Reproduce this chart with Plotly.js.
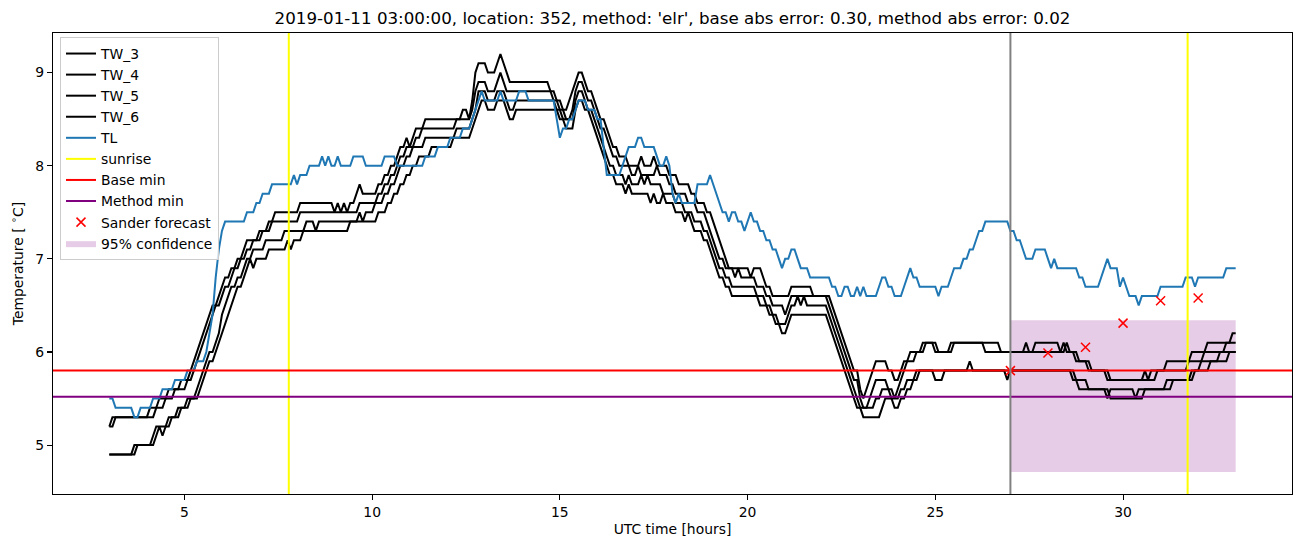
<!DOCTYPE html>
<html>
<head>
<meta charset="utf-8">
<script src="https://cdn.plot.ly/plotly-3.0.1.min.js"></script>
<style>html,body{margin:0;padding:0;background:#fff;}#chart{width:1302px;height:547px;}</style>
</head>
<body>
<div id="chart"></div>
<script>
// ---- data (5-minute samples from 03:00 to 33:00 UTC) ----
const startHour = 3;
const stepMinutes = 5;

const TL = [
5.5,5.5,5.4,5.4,5.4,5.4,5.4,5.4,5.3,5.3,5.4,5.4,
5.4,5.4,5.5,5.5,5.5,5.6,5.6,5.6,5.6,5.7,5.7,5.7,
5.7,5.8,5.8,5.8,5.9,5.9,5.9,6.0,6.2,6.4,6.8,7.1,
7.3,7.4,7.4,7.4,7.4,7.4,7.4,7.4,7.5,7.5,7.5,7.6,
7.6,7.7,7.7,7.7,7.8,7.8,7.8,7.8,7.8,7.8,7.8,7.9,
7.8,7.9,7.9,7.9,8.0,8.0,8.0,8.0,8.1,8.0,8.1,8.0,
8.0,8.1,8.0,8.0,8.0,8.0,8.1,8.1,8.1,8.1,8.0,8.0,
8.0,8.0,8.0,8.0,8.1,8.1,8.1,8.1,8.0,8.0,8.0,8.0,
8.0,8.0,8.0,8.0,8.0,8.1,8.1,8.1,8.1,8.2,8.2,8.2,
8.2,8.3,8.3,8.3,8.3,8.4,8.4,8.4,8.5,8.6,8.7,8.8,
8.7,8.7,8.7,8.7,8.7,8.8,8.7,8.7,8.7,8.7,8.7,8.8,
8.8,8.8,8.7,8.7,8.7,8.7,8.7,8.7,8.7,8.7,8.7,8.5,
8.3,8.4,8.4,8.5,8.5,8.6,8.7,8.7,8.7,8.6,8.6,8.6,
8.5,8.5,8.2,7.9,7.9,7.9,7.9,7.9,8.0,8.1,8.2,8.2,
8.2,8.3,8.3,8.2,8.2,8.2,8.2,8.1,8.0,8.0,8.1,8.0,
7.7,7.6,7.7,7.6,7.6,7.6,7.6,7.6,7.8,7.8,7.8,7.8,
7.9,7.8,7.7,7.6,7.5,7.5,7.4,7.5,7.5,7.4,7.4,7.3,
7.4,7.5,7.4,7.4,7.3,7.3,7.2,7.2,7.1,7.1,7.0,6.9,
7.0,7.0,7.1,7.1,7.0,6.9,6.9,6.9,6.8,6.8,6.8,6.8,
6.8,6.8,6.8,6.7,6.7,6.6,6.6,6.7,6.7,6.6,6.6,6.7,
6.6,6.7,6.6,6.6,6.6,6.6,6.7,6.8,6.8,6.7,6.7,6.6,
6.6,6.6,6.7,6.8,6.9,6.8,6.8,6.7,6.7,6.7,6.7,6.7,
6.7,6.6,6.7,6.7,6.7,6.8,6.9,6.9,6.9,7.0,7.0,7.1,
7.1,7.2,7.3,7.3,7.4,7.4,7.4,7.4,7.4,7.4,7.4,7.4,
7.3,7.3,7.2,7.2,7.1,7.0,7.0,7.0,7.1,7.1,7.1,7.1,
7.0,6.9,7.0,6.9,6.9,6.9,6.9,6.9,6.9,6.9,6.8,6.8,
6.7,6.7,6.7,6.7,6.7,6.8,6.9,7.0,6.9,6.9,6.9,6.7,
6.8,6.7,6.6,6.6,6.6,6.5,6.6,6.6,6.6,6.6,6.6,6.6,
6.7,6.7,6.7,6.7,6.7,6.7,6.7,6.7,6.8,6.8,6.8,6.7,
6.8,6.8,6.8,6.8,6.8,6.8,6.8,6.8,6.8,6.9,6.9,6.9,
6.9];

const TW_3 = [
5.2,5.3,5.3,5.3,5.3,5.3,5.3,5.3,5.3,5.3,5.3,5.3,
5.3,5.4,5.4,5.4,5.5,5.5,5.5,5.6,5.6,5.6,5.6,5.7,
5.7,5.7,5.8,5.9,6.0,6.1,6.2,6.3,6.4,6.5,6.5,6.6,
6.7,6.8,6.8,6.9,6.9,7.0,7.0,7.1,7.2,7.2,7.2,7.2,
7.3,7.3,7.3,7.4,7.4,7.5,7.5,7.5,7.5,7.5,7.5,7.5,
7.5,7.6,7.6,7.6,7.6,7.6,7.6,7.6,7.6,7.6,7.6,7.6,
7.5,7.6,7.5,7.6,7.5,7.6,7.6,7.7,7.8,7.7,7.7,7.7,
7.7,7.7,7.8,7.8,7.9,7.9,8.0,8.0,8.1,8.2,8.2,8.3,
8.2,8.3,8.4,8.4,8.4,8.5,8.5,8.5,8.5,8.5,8.5,8.5,
8.5,8.5,8.5,8.5,8.5,8.6,8.6,8.5,8.7,9.0,9.1,9.1,
9.1,9.0,9.0,9.0,9.1,9.2,9.1,9.0,8.9,8.9,8.9,8.9,
8.9,8.9,8.9,8.9,8.9,8.9,8.9,8.9,8.9,8.8,8.8,8.7,
8.7,8.6,8.6,8.7,8.8,8.9,9.0,9.0,8.9,8.8,8.8,8.7,
8.6,8.5,8.5,8.4,8.3,8.2,8.2,8.1,8.1,8.1,8.0,8.0,
8.0,8.0,8.1,8.0,8.0,8.0,8.1,8.0,8.0,8.0,8.0,7.9,
7.9,7.9,7.8,7.8,7.8,7.8,7.7,7.7,7.6,7.6,7.6,7.5,
7.5,7.4,7.3,7.2,7.1,7.0,6.9,6.9,6.9,6.9,6.9,6.9,
6.9,6.8,6.9,6.9,6.9,6.8,6.7,6.7,6.6,6.6,6.6,6.6,
6.6,6.6,6.7,6.7,6.7,6.7,6.7,6.7,6.7,6.6,6.6,6.6,
6.6,6.6,6.6,6.5,6.4,6.3,6.2,6.1,6.0,5.9,5.8,5.8,
5.6,5.5,5.6,5.7,5.8,5.9,5.9,5.9,5.9,5.8,5.8,5.7,
5.7,5.8,5.9,5.9,6.0,6.0,6.0,6.0,6.1,6.1,6.1,6.1,
6.0,6.0,6.0,6.0,6.0,6.1,6.1,6.1,6.1,6.1,6.1,6.1,
6.1,6.1,6.1,6.1,6.0,6.0,6.0,6.0,6.0,6.0,6.0,6.0,
6.0,6.0,6.0,6.0,6.0,6.1,6.0,6.0,6.1,6.1,6.1,6.1,
6.1,6.1,6.1,6.1,6.0,6.0,6.1,6.0,6.0,6.0,5.9,5.9,
5.9,5.9,5.8,5.8,5.8,5.8,5.8,5.8,5.7,5.7,5.7,5.7,
5.7,5.7,5.7,5.7,5.7,5.7,5.7,5.8,5.7,5.8,5.8,5.8,
5.8,5.8,5.9,5.9,5.9,5.9,5.9,5.9,5.9,5.9,6.0,6.0,
6.0,6.0,6.0,6.1,6.1,6.1,6.1,6.1,6.1,6.1,6.1,6.2,
6.2];

const TW_4 = [
5.2,5.2,5.3,5.3,5.3,5.3,5.3,5.3,5.3,5.3,5.3,5.3,
5.3,5.3,5.3,5.4,5.4,5.4,5.5,5.5,5.5,5.6,5.6,5.6,
5.6,5.7,5.7,5.8,5.9,6.0,6.1,6.2,6.3,6.4,6.5,6.5,
6.6,6.7,6.7,6.8,6.9,6.9,7.0,7.0,7.1,7.1,7.2,7.2,
7.2,7.3,7.3,7.3,7.4,7.4,7.4,7.4,7.4,7.4,7.4,7.4,
7.4,7.5,7.5,7.5,7.5,7.5,7.5,7.5,7.5,7.5,7.5,7.5,
7.5,7.5,7.5,7.5,7.5,7.5,7.5,7.5,7.6,7.6,7.6,7.6,
7.6,7.6,7.7,7.7,7.8,7.8,7.9,7.9,8.0,8.1,8.1,8.2,
8.2,8.2,8.3,8.3,8.4,8.4,8.4,8.4,8.4,8.4,8.4,8.4,
8.4,8.4,8.4,8.5,8.5,8.5,8.5,8.5,8.6,8.8,8.9,8.9,
8.9,8.8,8.8,8.8,8.9,9.0,8.9,8.8,8.8,8.8,8.8,8.8,
8.8,8.8,8.8,8.8,8.8,8.8,8.8,8.8,8.8,8.8,8.7,8.7,
8.6,8.6,8.5,8.5,8.6,8.8,8.9,8.9,8.8,8.7,8.7,8.6,
8.5,8.4,8.4,8.3,8.2,8.1,8.1,8.0,8.0,8.0,8.0,7.9,
7.9,8.0,7.9,7.9,7.9,7.9,7.9,8.0,7.9,7.9,7.9,7.8,
7.8,7.7,7.7,7.7,7.7,7.6,7.6,7.6,7.5,7.5,7.5,7.4,
7.3,7.2,7.1,7.0,7.0,6.9,6.9,6.9,6.8,6.9,6.8,6.8,
6.8,6.8,6.8,6.7,6.7,6.7,6.6,6.6,6.5,6.5,6.5,6.5,
6.4,6.5,6.6,6.6,6.6,6.6,6.6,6.6,6.6,6.6,6.6,6.6,
6.6,6.6,6.5,6.4,6.3,6.2,6.1,6.0,5.9,5.8,5.7,5.7,
5.5,5.4,5.4,5.5,5.6,5.7,5.7,5.7,5.7,5.6,5.6,5.5,
5.6,5.7,5.8,5.9,5.9,5.9,6.0,6.0,6.0,6.1,6.1,6.1,
6.1,6.0,6.0,6.0,6.0,6.0,6.1,6.1,6.1,6.1,6.1,6.1,
6.1,6.1,6.1,6.1,6.1,6.1,6.1,6.1,6.1,6.0,6.0,6.0,
6.0,6.0,6.0,6.0,6.0,6.0,6.0,6.0,6.0,6.0,6.0,6.0,
6.0,6.0,6.0,6.0,6.0,6.1,6.0,6.0,6.0,5.9,5.9,5.9,
5.9,5.8,5.8,5.8,5.8,5.8,5.8,5.7,5.7,5.7,5.7,5.7,
5.7,5.7,5.7,5.7,5.7,5.7,5.7,5.7,5.7,5.7,5.7,5.8,
5.8,5.8,5.8,5.8,5.8,5.8,5.8,5.8,5.8,5.9,5.9,5.9,
5.9,5.9,6.0,6.0,6.0,6.0,6.0,6.0,6.0,6.1,6.1,6.1,
6.1];

const TW_5 = [
4.9,4.9,4.9,4.9,4.9,4.9,4.9,4.9,5.0,5.0,5.0,5.0,
5.0,5.0,5.1,5.2,5.2,5.2,5.2,5.3,5.3,5.3,5.4,5.4,
5.4,5.5,5.5,5.5,5.6,5.7,5.8,5.9,6.0,6.0,6.1,6.2,
6.4,6.5,6.6,6.7,6.7,6.8,6.8,6.9,7.0,7.0,7.1,7.1,
7.1,7.1,7.2,7.2,7.2,7.2,7.2,7.2,7.3,7.3,7.3,7.3,
7.3,7.3,7.3,7.4,7.4,7.4,7.3,7.4,7.4,7.4,7.4,7.4,
7.4,7.4,7.4,7.4,7.4,7.4,7.4,7.4,7.5,7.4,7.5,7.5,
7.5,7.6,7.6,7.6,7.7,7.7,7.8,7.8,7.9,8.0,8.0,8.1,
8.1,8.2,8.2,8.2,8.2,8.3,8.3,8.3,8.3,8.3,8.3,8.3,
8.3,8.3,8.3,8.4,8.4,8.4,8.4,8.4,8.5,8.6,8.8,8.8,
8.8,8.7,8.7,8.7,8.8,8.8,8.8,8.7,8.6,8.6,8.7,8.7,
8.7,8.7,8.7,8.7,8.7,8.7,8.7,8.7,8.7,8.7,8.7,8.6,
8.6,8.5,8.5,8.5,8.5,8.7,8.8,8.8,8.7,8.6,8.6,8.5,
8.4,8.3,8.2,8.1,8.0,8.0,7.9,7.9,7.9,7.8,7.9,7.8,
7.8,7.8,7.9,7.8,7.9,7.8,7.8,7.8,7.8,7.7,7.7,7.7,
7.7,7.6,7.6,7.6,7.5,7.5,7.5,7.4,7.4,7.4,7.3,7.3,
7.2,7.1,7.0,6.9,6.9,6.8,6.8,6.7,6.7,6.7,6.7,6.7,
6.7,6.7,6.7,6.6,6.6,6.6,6.5,6.5,6.4,6.4,6.3,6.3,
6.3,6.4,6.5,6.5,6.6,6.5,6.6,6.5,6.5,6.5,6.5,6.5,
6.5,6.5,6.4,6.3,6.2,6.1,6.0,5.9,5.8,5.7,5.6,5.5,
5.4,5.4,5.4,5.4,5.4,5.5,5.5,5.6,5.6,5.6,5.5,5.5,
5.5,5.6,5.6,5.7,5.7,5.7,5.8,5.8,5.8,5.8,5.8,5.8,
5.7,5.7,5.7,5.8,5.8,5.8,5.8,5.8,5.8,5.8,5.8,5.8,
5.8,5.8,5.8,5.8,5.8,5.8,5.8,5.8,5.8,5.8,5.8,5.7,
5.8,5.8,5.8,5.8,5.8,5.8,5.8,5.8,5.8,5.8,5.8,5.8,
5.8,5.8,5.8,5.8,5.8,5.8,5.8,5.8,5.7,5.7,5.6,5.6,
5.6,5.6,5.6,5.6,5.6,5.6,5.6,5.5,5.6,5.6,5.6,5.6,
5.6,5.6,5.6,5.6,5.5,5.6,5.6,5.6,5.6,5.6,5.6,5.6,
5.6,5.6,5.7,5.7,5.7,5.7,5.7,5.7,5.7,5.7,5.8,5.8,
5.8,5.9,5.9,5.9,5.9,5.9,5.9,6.0,6.0,6.0,6.0,6.0,
6.0];

const TW_6 = [
4.9,4.9,4.9,4.9,4.9,4.9,4.9,4.9,4.9,5.0,5.0,5.0,
5.0,5.0,5.0,5.1,5.2,5.1,5.2,5.2,5.3,5.3,5.3,5.4,
5.4,5.4,5.5,5.5,5.5,5.6,5.7,5.8,5.9,5.9,6.0,6.1,
6.2,6.3,6.4,6.5,6.6,6.7,6.7,6.8,6.9,7.0,6.9,7.0,
7.0,7.0,7.0,7.1,7.1,7.1,7.1,7.1,7.1,7.2,7.1,7.2,
7.2,7.2,7.3,7.3,7.3,7.3,7.3,7.3,7.3,7.3,7.3,7.3,
7.3,7.3,7.3,7.3,7.3,7.4,7.4,7.4,7.4,7.4,7.4,7.4,
7.4,7.4,7.5,7.5,7.5,7.6,7.6,7.7,7.7,7.8,7.8,7.9,
7.9,8.0,8.0,8.1,8.1,8.1,8.1,8.2,8.2,8.2,8.2,8.2,
8.2,8.2,8.3,8.3,8.3,8.3,8.3,8.3,8.4,8.5,8.6,8.7,
8.7,8.6,8.6,8.6,8.7,8.7,8.7,8.6,8.5,8.5,8.6,8.6,
8.6,8.6,8.6,8.6,8.6,8.6,8.6,8.6,8.6,8.6,8.6,8.6,
8.5,8.5,8.4,8.4,8.4,8.6,8.7,8.7,8.6,8.6,8.5,8.4,
8.3,8.2,8.1,8.0,7.9,7.9,7.8,7.8,7.8,7.7,7.8,7.7,
7.7,7.7,7.7,7.7,7.7,7.6,7.7,7.6,7.6,7.7,7.6,7.6,
7.6,7.5,7.5,7.5,7.4,7.5,7.4,7.3,7.3,7.3,7.2,7.2,
7.1,7.0,6.9,6.8,6.8,6.7,6.7,6.6,6.6,6.6,6.6,6.6,
6.6,6.6,6.6,6.6,6.5,6.5,6.5,6.4,6.4,6.3,6.3,6.2,
6.2,6.3,6.4,6.4,6.4,6.4,6.4,6.4,6.4,6.4,6.4,6.4,
6.4,6.4,6.3,6.2,6.1,6.0,5.9,5.8,5.7,5.6,5.5,5.4,
5.4,5.3,5.3,5.3,5.3,5.3,5.3,5.4,5.5,5.5,5.5,5.4,
5.4,5.5,5.5,5.6,5.6,5.7,5.7,5.8,5.8,5.8,5.8,5.8,
5.8,5.8,5.8,5.8,5.8,5.8,5.8,5.8,5.8,5.8,5.8,5.9,
5.8,5.8,5.8,5.8,5.8,5.8,5.8,5.8,5.8,5.8,5.8,5.8,
5.8,5.8,5.8,5.8,5.8,5.8,5.8,5.8,5.8,5.8,5.8,5.8,
5.8,5.8,5.8,5.8,5.8,5.8,5.8,5.8,5.8,5.7,5.7,5.7,
5.7,5.6,5.6,5.6,5.6,5.6,5.6,5.6,5.5,5.5,5.5,5.5,
5.5,5.5,5.5,5.5,5.5,5.5,5.5,5.6,5.6,5.6,5.6,5.6,
5.6,5.6,5.6,5.6,5.7,5.7,5.7,5.7,5.7,5.7,5.7,5.8,
5.8,5.8,5.8,5.8,5.9,5.9,5.9,5.9,5.9,5.9,6.0,6.0,
6.0];

const sunriseHours = [7.78, 31.72];
const forecastStartHour = 27;
const baseMin = 5.80;
const methodMin = 5.52;
const forecastHours = [27, 28, 29, 30, 31, 32];
const forecastValues = [5.80, 5.99, 6.05, 6.31, 6.55, 6.58];
const bandHours = [27, 33];
const bandLow = [4.71, 4.71];
const bandHigh = [6.34, 6.34];
const xRange = [1.5, 34.5];
const yRange = [4.475, 9.425];
const titleText = "2019-01-11 03:00:00, location: 352, method: 'elr', base abs error: 0.30, method abs error: 0.02";

// ---- checks ----
const series = {TL, TW_3, TW_4, TW_5, TW_6};
const bad = Object.entries(series).filter(([k, v]) => v.length !== 361).map(([k, v]) => k + ':' + v.length);
if (bad.length) throw new Error('length mismatch ' + bad.join(', '));

const hours = TL.map((_, i) => startHour + i * stepMinutes / 60);

const FONT = 'DejaVu Sans, sans-serif';
const traces = [];

// confidence band (drawn first, listed last)
traces.push({
  x: bandHours.concat(bandHours.slice().reverse()),
  y: bandLow.concat(bandHigh.slice().reverse()),
  type: 'scatter', mode: 'lines', fill: 'toself',
  fillcolor: 'rgba(128,0,128,0.2)', line: {width: 0, color: 'rgba(128,0,128,0)'},
  name: '95% confidence', legendrank: 10, hoverinfo: 'skip'
});

[['TW_3', TW_3], ['TW_4', TW_4], ['TW_5', TW_5], ['TW_6', TW_6]].forEach(([n, v], k) => {
  traces.push({x: hours, y: v, type: 'scatter', mode: 'lines', name: n,
    line: {color: '#000000', width: 2}, legendrank: k + 1});
});
traces.push({x: hours, y: TL, type: 'scatter', mode: 'lines', name: 'TL',
  line: {color: '#1f77b4', width: 2}, legendrank: 5});

// sunrise vertical lines
const sx = [], sy = [];
sunriseHours.forEach(h => { sx.push(h, h, null); sy.push(yRange[0], yRange[1], null); });
traces.push({x: sx, y: sy, type: 'scatter', mode: 'lines', name: 'sunrise',
  line: {color: '#ffff00', width: 2}, legendrank: 6});

traces.push({x: xRange, y: [baseMin, baseMin], type: 'scatter', mode: 'lines', name: 'Base min',
  line: {color: '#ff0000', width: 2}, legendrank: 7});
traces.push({x: xRange, y: [methodMin, methodMin], type: 'scatter', mode: 'lines', name: 'Method min',
  line: {color: '#800080', width: 2}, legendrank: 8});
traces.push({x: forecastHours, y: forecastValues, type: 'scatter', mode: 'markers', name: 'Sander forecast',
  marker: {symbol: 'x-thin', size: 9, color: '#ff0000', line: {color: '#ff0000', width: 1.5}}, legendrank: 9});

const axisCommon = {
  showgrid: false, zeroline: false, showline: true, mirror: true,
  linecolor: '#000000', linewidth: 1.1, ticks: 'outside', ticklen: 5, tickwidth: 1.1,
  tickcolor: '#000000', tickfont: {family: FONT, size: 13.9, color: '#000000'}
};

const layout = {
  width: 1302, height: 547,
  margin: {l: 53, r: 10, t: 33, b: 53, pad: 0},
  paper_bgcolor: '#ffffff', plot_bgcolor: '#ffffff',
  font: {family: FONT, size: 13.9, color: '#000000'},
  title: {text: titleText, font: {family: FONT, size: 16.7, color: '#000000'},
    x: 0.5, xref: 'paper', y: 1 - 18.5 / 547, yref: 'container', yanchor: 'middle'},
  xaxis: Object.assign({}, axisCommon, {range: xRange, tick0: 0, dtick: 5,
    title: {text: 'UTC time [hours]', font: {family: FONT, size: 13.9, color: '#000000'}, standoff: 5}}),
  yaxis: Object.assign({}, axisCommon, {range: yRange, tick0: 0, dtick: 1,
    title: {text: 'Temperature [ <sup>∘</sup>C]', font: {family: FONT, size: 13.9, color: '#000000'}, standoff: 8}}),
  showlegend: true,
  legend: {x: 7 / 1239, y: 1 - 4 / 461, xanchor: 'left', yanchor: 'top',
    bgcolor: 'rgba(255,255,255,0.8)', bordercolor: '#cccccc', borderwidth: 1,
    font: {family: FONT, size: 13.9, color: '#000000'}, traceorder: 'normal'},
  shapes: [{type: 'line', xref: 'x', yref: 'paper', x0: forecastStartHour, x1: forecastStartHour, y0: 0, y1: 1,
    line: {color: '#808080', width: 2}, layer: 'above'}]
};

Plotly.newPlot('chart', traces, layout, {displayModeBar: false, staticPlot: true});
</script>
</body>
</html>
